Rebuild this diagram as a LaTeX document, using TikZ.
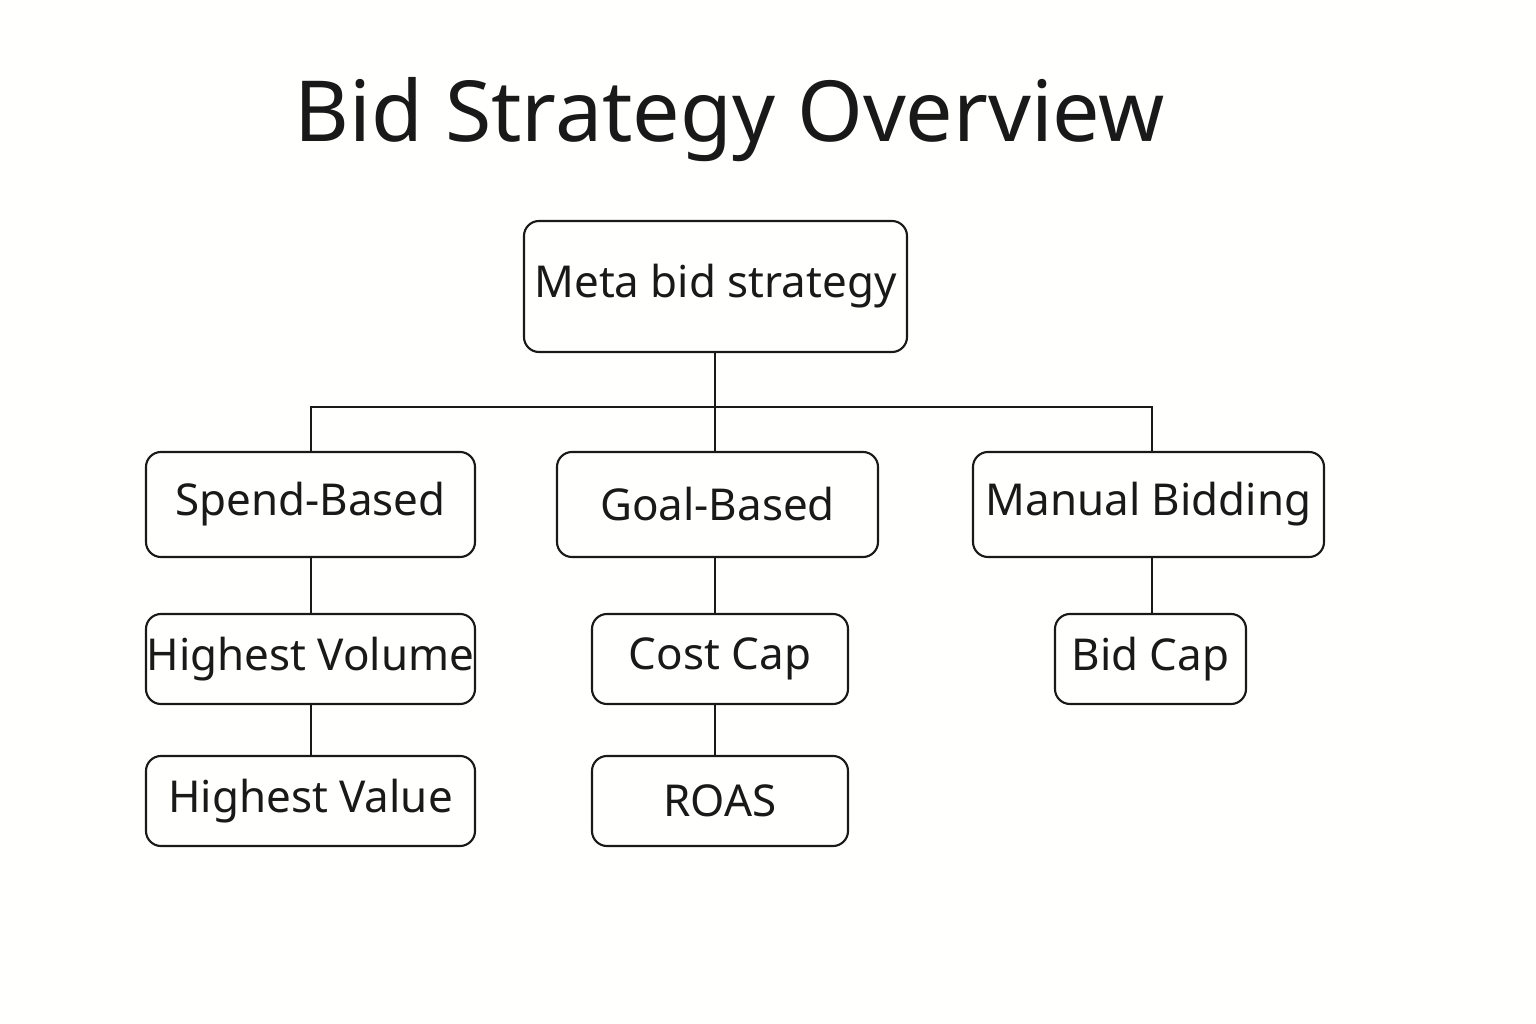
\documentclass[tikz,border=0pt]{standalone}
\usepackage{fontspec}
\setmainfont{Noto Sans}
\begin{document}
\begin{tikzpicture}[x=0.02cm,y=-0.02cm,
  box/.style={draw=black!90,line width=1.2pt,rounded corners=0.3cm,font=\fontsize{25}{30}\selectfont,text=black!90,inner sep=0pt},
  conn/.style={draw=black!90,line width=1.2pt}]
\fill[white!98!yellow!40] (0,0) rectangle (1536,1024);
\useasboundingbox (0,0) rectangle (1536,1024);
\node[font=\fontsize{48}{56}\selectfont\bfseries,text=black!90] (title) at (730,120) {Bid Strategy Overview};
\node[box,minimum width=383*0.02cm,minimum height=131*0.02cm] (meta) at (715.5,286.5) {Meta bid strategy};
\node[box,minimum width=329*0.02cm,minimum height=105*0.02cm] (spend) at (310.5,504.5) {Spend-Based};
\node[box,minimum width=321*0.02cm,minimum height=105*0.02cm] (goal) at (717.5,504.5) {Goal-Based};
\node[box,minimum width=351*0.02cm,minimum height=105*0.02cm] (manual) at (1148.5,504.5) {Manual Bidding};
\node[box,minimum width=329*0.02cm,minimum height=90*0.02cm] (hvol) at (310.5,659) {Highest Volume};
\node[box,minimum width=329*0.02cm,minimum height=90*0.02cm] (hval) at (310.5,801) {Highest Value};
\node[box,minimum width=256*0.02cm,minimum height=90*0.02cm] (cost) at (720,659) {Cost Cap};
\node[box,minimum width=256*0.02cm,minimum height=90*0.02cm] (roas) at (720,801) {ROAS};
\node[box,minimum width=191*0.02cm,minimum height=90*0.02cm] (bid) at (1150.5,659) {Bid Cap};
\coordinate (j) at (715,407);
\draw[conn] (meta.south -| j) -- (j);
\draw[conn] (spend.north -| 311,0) |- (j) -| (manual.north -| 1152,0);
\draw[conn] (j) -- (goal.north -| j);
\draw[conn] (spend.south -| 311,0) -- (hvol.north -| 311,0);
\draw[conn] (hvol.south -| 311,0) -- (hval.north -| 311,0);
\draw[conn] (goal.south -| 715,0) -- (cost.north -| 715,0);
\draw[conn] (cost.south -| 715,0) -- (roas.north -| 715,0);
\draw[conn] (manual.south -| 1152,0) -- (bid.north -| 1152,0);
\end{tikzpicture}
\end{document}
